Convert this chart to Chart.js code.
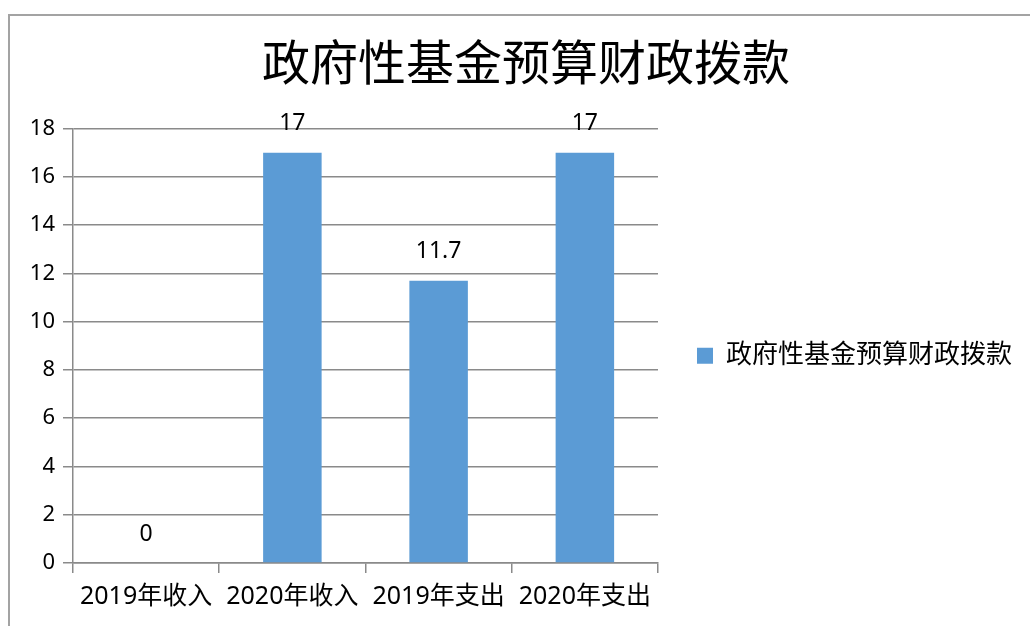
<!DOCTYPE html>
<html>
<head>
<meta charset="utf-8">
<script src="https://cdn.jsdelivr.net/npm/chart.js@4/dist/chart.umd.min.js"></script>
<style>
    body { margin: 0; background: #fff; }
    #frame {
        position: absolute; left: 8px; top: 14px; width: 1100px; height: 700px;
        border-top: 2px solid #a3a3a3; border-left: 2px solid #a3a3a3;
    }
    #barChart { position: absolute; left: 0; top: 0; }
</style>
</head>
<body>
<div id="frame"></div>
<canvas id="barChart" width="1030" height="626"></canvas>
<script>
var chartTitle = '政府性基金预算财政拨款';
var categories = ['2019年收入', '2020年收入', '2019年支出', '2020年支出'];
var values = [0, 17, 11.7, 17];
var yTicks = [0, 2, 4, 6, 8, 10, 12, 14, 16, 18];

var textFont = "'Noto Sans', 'Noto Sans CJK SC', sans-serif";
var gridColor = '#8a8a8a';

// draws the number above each bar
var valueLabels = {
    id: 'valueLabels',
    afterDatasetsDraw: function (chart) {
        var ctx = chart.ctx;
        ctx.save();
        ctx.font = '23px ' + textFont;
        ctx.fillStyle = '#000';
        ctx.textAlign = 'center';
        ctx.textBaseline = 'middle';
        chart.getDatasetMeta(0).data.forEach(function (bar, i) {
            ctx.fillText(String(values[i]), bar.x, bar.y - 29);
        });
        ctx.restore();
    }
};

var barChartCanvas = document.getElementById('barChart').getContext('2d');
var barChart = new Chart(barChartCanvas, {
    type: 'bar',
    data: {
        labels: categories,
        datasets: [{
            label: chartTitle,
            data: values,
            backgroundColor: '#5b9bd5',
            borderWidth: 0,
            categoryPercentage: 1,
            barPercentage: 0.4
        }]
    },
    options: {
        responsive: false,
        animation: false,
        layout: { padding: { left: 30, right: 8, top: 0, bottom: 0 } },
        plugins: {
            title: {
                display: true,
                text: chartTitle,
                color: '#000',
                font: { family: "'Noto Sans CJK SC', sans-serif", size: 48, weight: 'normal', lineHeight: 1.2 },
                padding: { top: 33, bottom: 38 }
            },
            legend: {
                position: 'right',
                fullSize: false,
                maxWidth: 400,
                title: { display: true, text: ' ', font: { size: 10, lineHeight: 1.2 }, padding: 4 },
                labels: {
                    boxWidth: 16,
                    boxHeight: 16,
                    padding: 39,
                    color: '#000',
                    font: { family: textFont, size: 26 }
                }
            },
            tooltip: { enabled: false }
        },
        scales: {
            x: {
                grid: { display: true, drawOnChartArea: false, drawTicks: true, tickLength: 10, color: gridColor, lineWidth: 1.5 },
                border: { color: gridColor, width: 1.5 },
                ticks: { color: '#000', font: { family: textFont, size: 25 }, padding: 9, maxRotation: 0, autoSkip: false },
                afterFit: function (scale) { scale.height = 63; }
            },
            y: {
                min: 0,
                max: 18,
                afterBuildTicks: function (scale) {
                    scale.ticks = yTicks.map(function (v) { return { value: v }; });
                },
                grid: { color: gridColor, lineWidth: 1.5, tickLength: 10 },
                border: { color: gridColor, width: 1.5 },
                ticks: { color: '#000', font: { family: textFont, size: 22 }, padding: 8 },
                afterFit: function (scale) { scale.width = 43; }
            }
        }
    },
    plugins: [valueLabels]
});
</script>
</body>
</html>
